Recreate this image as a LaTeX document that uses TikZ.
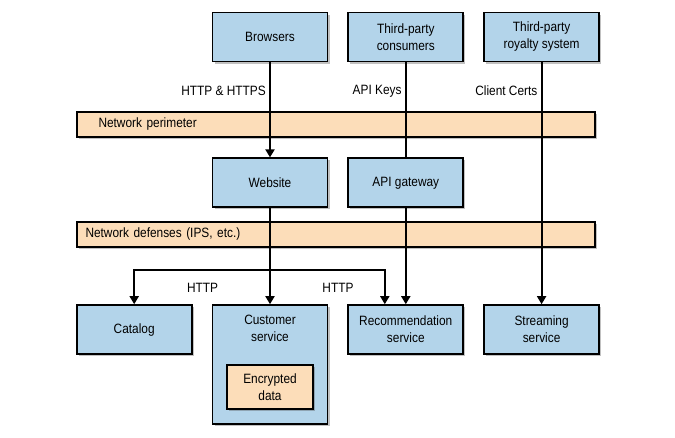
\documentclass[tikz,border=0pt]{standalone}
\usepackage{fontspec}
\setmainfont{Liberation Sans}[FakeStretch=0.88]
\usetikzlibrary{arrows.meta, positioning, shadows}
\definecolor{boxblue}{RGB}{179,212,234}
\definecolor{bandorange}{RGB}{252,221,185}
\tikzset{
  shade box/.style={drop shadow={shadow xshift=2pt, shadow yshift=-2pt, fill=black!70, opacity=0.35}},
  svc/.style={draw, fill=boxblue, minimum width=115pt, minimum height=49pt, align=center, shade box},
  band/.style={draw, fill=bandorange, minimum width=518pt, minimum height=25pt, text width=509pt, align=left, shade box},
  link/.style={-{Triangle[length=8pt,width=9pt]}}
}
\begin{document}
\begin{tikzpicture}[font=\fontsize{13.5pt}{17pt}\selectfont, line width=1.8pt]
\useasboundingbox (0,0) rectangle (675pt,-437pt);

% top row
\node[svc] (B) at (270pt,-37pt) {Browsers};
\node[svc, right=19pt of B] (TPC) {Third-party\\consumers};
\node[svc, right=19pt of TPC] (TPR) {Third-party\\royalty system};

% bands
\node[band] (NP) at (336pt,-124.5pt) {\hspace*{17pt}Network perimeter};
\node[band] (ND) at (336pt,-234.5pt) {\hspace*{4pt}Network defenses (IPS, etc.)};

% middle row
\node[svc, below=95pt of B] (W) {Website};
\node[svc, right=19pt of W] (API) {API gateway};

% services
\node[svc, below=96pt of W, minimum height=119pt,
    label={[align=center, anchor=center, yshift=-24.5pt]north:Customer\\service}] (CS) {};
\node[svc, fill=bandorange, minimum width=86pt, minimum height=44pt, above=15pt of CS.south] (ED) {Encrypted\\data};
\node[svc, left=19pt of CS.north west, anchor=north east] (Cat) {Catalog};
\node[svc, right=19pt of CS.north east, anchor=north west] (Rec) {Recommendation\\service};
\node[svc, right=19pt of Rec] (SS) {Streaming\\service};

% Arrows
\draw[link] (B) -- node[left, pos=0.3]{HTTP \& HTTPS} (W);
\draw (TPC) -- node[left, pos=0.3]{API Keys} (API);
\draw[link] (TPR) -- node[left, pos=0.117]{Client Certs} (SS);
\draw[link] (API) -- (Rec);
\draw[link] (W) -- (CS);
\coordinate[below=62pt of W] (split);
\draw[link] (split) -| node[below=9pt, pos=0.248]{HTTP} (Cat);
\draw[link] (split) -| node[below=9pt, pos=0.296]{HTTP} ([xshift=-21pt]Rec.north);
\end{tikzpicture}
\end{document}
